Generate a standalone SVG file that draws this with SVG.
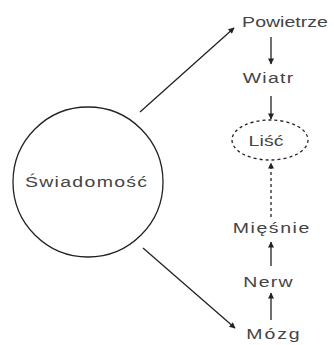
<svg xmlns="http://www.w3.org/2000/svg" width="334" height="345" viewBox="0 0 334 345">
<style>
.t{font-family:"Liberation Sans",Arial,sans-serif;font-size:15px;fill:#444;text-anchor:middle}
.l{stroke:#222;stroke-width:1.3;fill:none}
.d{stroke-dasharray:3,3}
</style>
<defs>
<marker id="ah" viewBox="0 0 10 10" refX="9" refY="5" markerWidth="9" markerHeight="6" markerUnits="userSpaceOnUse" orient="auto">
<path d="M0,0 L10,5 L0,10 z" fill="#222"/>
</marker>
</defs>
<rect width="334" height="345" fill="#fff"/>
<g id="connectors">
<line class="l" x1="140" y1="112" x2="234" y2="28" marker-end="url(#ah)"/>
<line class="l" x1="143" y1="248" x2="235" y2="328" marker-end="url(#ah)"/>
<line class="l" x1="271" y1="37" x2="271" y2="64" marker-end="url(#ah)"/>
<line class="l" x1="271" y1="96" x2="271" y2="119" marker-end="url(#ah)"/>
<line class="l d" x1="271" y1="217" x2="271" y2="163" marker-end="url(#ah)"/>
<line class="l" x1="271" y1="266" x2="271" y2="242" marker-end="url(#ah)"/>
<line class="l" x1="271" y1="320" x2="271" y2="293" marker-end="url(#ah)"/>
</g>
<g id="swiadomosc">
<circle class="l" cx="88" cy="182" r="75"/>
<text class="t" transform="translate(86,187) scale(1.3,1)" textLength="94" lengthAdjust="spacing">Świadomość</text>
</g>
<g id="powietrze"><text class="t" transform="translate(285,27) scale(1.3,1)" textLength="66" lengthAdjust="spacing">Powietrze</text></g>
<g id="wiatr"><text class="t" transform="translate(268,83) scale(1.3,1)" textLength="39" lengthAdjust="spacing">Wiatr</text></g>
<g id="lisc">
<ellipse class="l d" cx="270" cy="140" rx="38" ry="20"/>
<text class="t" transform="translate(266,146) scale(1.3,1)" textLength="27" lengthAdjust="spacing">Liść</text>
</g>
<g id="miesnie"><text class="t" transform="translate(271,233) scale(1.3,1)" textLength="59" lengthAdjust="spacing">Mięśnie</text></g>
<g id="nerw"><text class="t" transform="translate(268,287) scale(1.3,1)" textLength="38" lengthAdjust="spacing">Nerw</text></g>
<g id="mozg"><text class="t" transform="translate(273,339) scale(1.3,1)" textLength="41" lengthAdjust="spacing">Mózg</text></g>
</svg>
